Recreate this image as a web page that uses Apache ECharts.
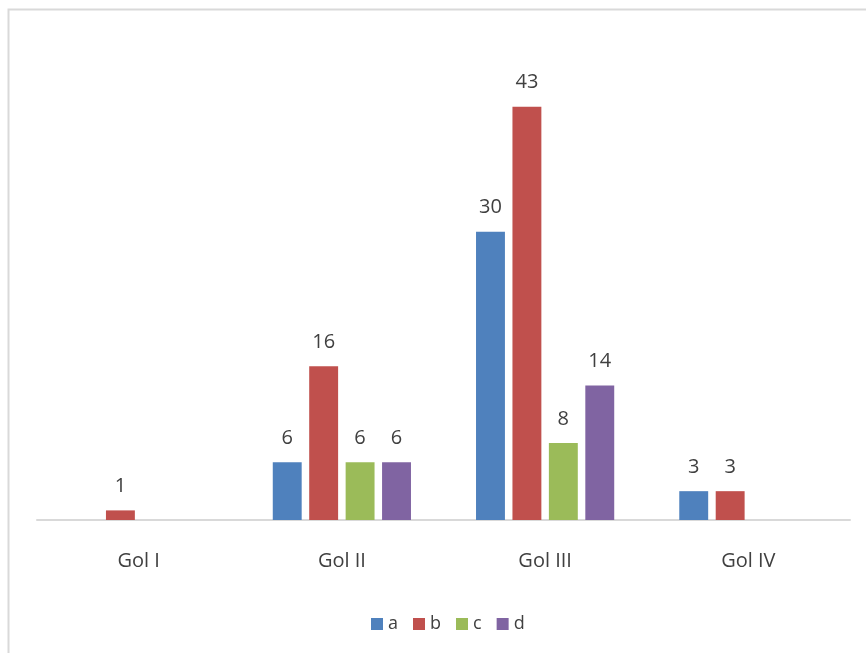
<!DOCTYPE html>
<html>
<head>
<meta charset="utf-8">
<script src="https://cdn.jsdelivr.net/npm/echarts@6/dist/echarts.min.js"></script>
<style>
  html, body { margin: 0; padding: 0; background: #fff; }
  #chart { width: 866px; height: 653px; }
</style>
</head>
<body>
<div id="chart"></div>
<script>
// data
var categories = ['Gol I', 'Gol II', 'Gol III', 'Gol IV'];
var seriesNames = ['a', 'b', 'c', 'd'];
var valuesA = [null, 6, 30, 3];
var valuesB = [1, 16, 43, 3];
var valuesC = [null, 6, 8, null];
var valuesD = [null, 6, 14, null];
var colors = ['#4F81BD', '#C0504D', '#9BBB59', '#8064A2'];

var allValues = [valuesA, valuesB, valuesC, valuesD];
var txt = '#404040';
var font = 'Open Sans';

var chart = echarts.init(document.getElementById('chart'));

var series = seriesNames.map(function (name, i) {
  return {
    name: name,
    type: 'bar',
    data: allValues[i],
    barGap: '26%',
    barCategoryGap: '32%',
    itemStyle: { color: colors[i] },
    label: {
      show: true,
      position: 'top',
      distance: 14,
      color: txt,
      fontSize: 20,
      fontFamily: font
    }
  };
});

chart.setOption({
  animation: false,
  color: colors,
  graphic: [{
    type: 'rect',
    shape: { x: 8.5, y: 9.5, width: 900, height: 700 },
    style: { fill: 'none', stroke: '#d9d9d9', lineWidth: 2 },
    silent: true
  }],
  grid: { left: 37, right: 16, top: 39.5, bottom: 133 },
  legend: {
    data: seriesNames,
    top: 610,
    left: 366,
    icon: 'rect',
    itemWidth: 12,
    itemHeight: 12,
    itemGap: 15,
    textStyle: { color: txt, fontSize: 18, fontFamily: font }
  },
  xAxis: {
    type: 'category',
    data: categories,
    axisLine: { lineStyle: { color: '#d9d9d9', width: 2 } },
    axisTick: { show: false },
    axisLabel: { color: txt, fontSize: 20, fontFamily: font, margin: 31 }
  },
  yAxis: {
    type: 'value',
    min: 0,
    max: 50,
    interval: 10,
    show: false,
    splitLine: { show: false }
  },
  series: series
});
</script>
</body>
</html>
